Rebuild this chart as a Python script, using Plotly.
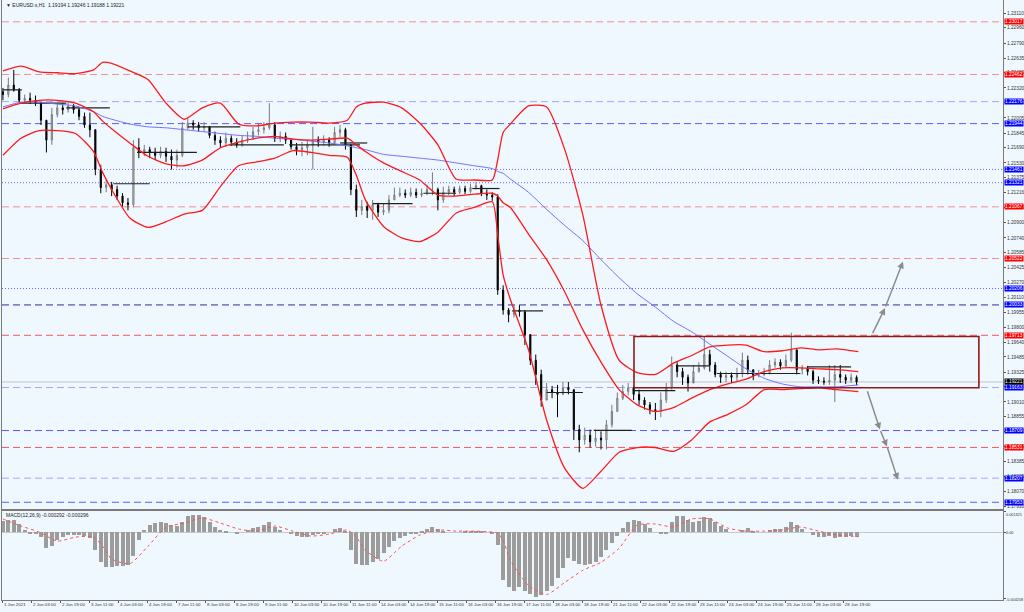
import plotly.graph_objects as go

# ---------------- data ----------------
title_text = "\u25bc EURUSD.s,H1  1.19194 1.19246 1.19188 1.19221"
macd_text = "MACD(12,26,9) -0.000292 -0.000296"

bar_step = 3          # each drawn candle covers 3 hourly bars
first_open = 1.2228

high = [1.2232, 1.2243, 1.2251, 1.2232, 1.2225, 1.2227, 1.2224, 1.2217, 1.2198, 1.2211,
        1.2216, 1.2216, 1.2217, 1.2215, 1.2211, 1.2206, 1.2206, 1.2188, 1.2151, 1.2135,
        1.2133, 1.2129, 1.2121, 1.2116, 1.2177, 1.2179, 1.2172, 1.2170, 1.2169, 1.2170,
        1.2169, 1.2167, 1.2167, 1.2196, 1.2200, 1.2198, 1.2196, 1.2196, 1.2192, 1.2186,
        1.2181, 1.2185, 1.2182, 1.2179, 1.2182, 1.2186, 1.2191, 1.2194, 1.2196, 1.2216,
        1.2196, 1.2186, 1.2185, 1.2177, 1.2174, 1.2175, 1.2177, 1.2191, 1.2181, 1.2182,
        1.2180, 1.2191, 1.2193, 1.2190, 1.2172, 1.2130, 1.2114, 1.2112, 1.2114, 1.2111,
        1.2110, 1.2119, 1.2127, 1.2127, 1.2125, 1.2127, 1.2126, 1.2126, 1.2130, 1.2143,
        1.2127, 1.2128, 1.2129, 1.2128, 1.2129, 1.2129, 1.2131, 1.2133, 1.2130, 1.2125,
        1.2122, 1.2120, 1.2024, 1.2000, 1.2003, 1.2003, 1.1998, 1.1972, 1.1951, 1.1935,
        1.1921, 1.1918, 1.1919, 1.1922, 1.1922, 1.1914, 1.1877, 1.1874, 1.1872, 1.1872,
        1.1870, 1.1882, 1.1898, 1.1911, 1.1919, 1.1921, 1.1918, 1.1914, 1.1906, 1.1901,
        1.1900, 1.1911, 1.1921, 1.1949, 1.1943, 1.1937, 1.1930, 1.1940, 1.1943, 1.1970,
        1.1956, 1.1943, 1.1933, 1.1933, 1.1932, 1.1937, 1.1953, 1.1950, 1.1935, 1.1935,
        1.1937, 1.1945, 1.1947, 1.1946, 1.1951, 1.1974, 1.1956, 1.1940, 1.1939, 1.1935,
        1.1928, 1.1927, 1.1940, 1.1940, 1.1940, 1.1930, 1.1931, 1.1929]

low = [1.2219, 1.2222, 1.2228, 1.2216, 1.2216, 1.2215, 1.2213, 1.2193, 1.2164, 1.2172,
       1.2201, 1.2204, 1.2206, 1.2205, 1.2198, 1.2190, 1.2180, 1.2140, 1.2121, 1.2122,
       1.2118, 1.2114, 1.2107, 1.2103, 1.2106, 1.2158, 1.2160, 1.2158, 1.2156, 1.2158,
       1.2154, 1.2146, 1.2148, 1.2159, 1.2188, 1.2188, 1.2186, 1.2186, 1.2179, 1.2172,
       1.2169, 1.2170, 1.2171, 1.2169, 1.2170, 1.2174, 1.2177, 1.2182, 1.2184, 1.2188,
       1.2175, 1.2175, 1.2173, 1.2167, 1.2161, 1.2160, 1.2161, 1.2146, 1.2170, 1.2171,
       1.2170, 1.2172, 1.2180, 1.2167, 1.2119, 1.2096, 1.2098, 1.2095, 1.2093, 1.2096,
       1.2098, 1.2100, 1.2114, 1.2117, 1.2116, 1.2117, 1.2116, 1.2117, 1.2119, 1.2119,
       1.2103, 1.2111, 1.2119, 1.2118, 1.2120, 1.2120, 1.2121, 1.2125, 1.2118, 1.2114,
       1.2113, 1.2014, 1.1993, 1.1985, 1.1990, 1.1991, 1.1961, 1.1940, 1.1919, 1.1896,
       1.1903, 1.1905, 1.1885, 1.1911, 1.1909, 1.1861, 1.1848, 1.1856, 1.1853, 1.1854,
       1.1851, 1.1851, 1.1874, 1.1891, 1.1903, 1.1908, 1.1903, 1.1898, 1.1893, 1.1888,
       1.1882, 1.1885, 1.1900, 1.1914, 1.1927, 1.1919, 1.1912, 1.1927, 1.1932, 1.1935,
       1.1933, 1.1927, 1.1921, 1.1922, 1.1921, 1.1923, 1.1927, 1.1930, 1.1924, 1.1927,
       1.1928, 1.1930, 1.1937, 1.1935, 1.1937, 1.1943, 1.1930, 1.1930, 1.1929, 1.1920,
       1.1920, 1.1919, 1.1919, 1.1901, 1.1921, 1.1920, 1.1921, 1.19188]

close = [1.2225, 1.2235, 1.2230, 1.2219, 1.2221, 1.2219, 1.2216, 1.2198, 1.2177, 1.2204,
         1.2211, 1.2209, 1.2213, 1.2209, 1.2202, 1.2193, 1.2188, 1.2146, 1.2127, 1.2130,
         1.2125, 1.2118, 1.2111, 1.2109, 1.2169, 1.2165, 1.2167, 1.2164, 1.2161, 1.2165,
         1.2160, 1.2156, 1.2161, 1.2190, 1.2195, 1.2193, 1.2190, 1.2191, 1.2182, 1.2177,
         1.2174, 1.2179, 1.2175, 1.2172, 1.2177, 1.2179, 1.2186, 1.2188, 1.2190, 1.2193,
         1.2179, 1.2181, 1.2177, 1.2170, 1.2167, 1.2169, 1.2172, 1.2177, 1.2175, 1.2177,
         1.2174, 1.2185, 1.2188, 1.2172, 1.2125, 1.2103, 1.2107, 1.2103, 1.2109, 1.2101,
         1.2103, 1.2114, 1.2119, 1.2121, 1.2119, 1.2122, 1.2119, 1.2121, 1.2125, 1.2125,
         1.2114, 1.2122, 1.2125, 1.2122, 1.2126, 1.2123, 1.2127, 1.2129, 1.2121, 1.2119,
         1.2117, 1.2019, 1.1998, 1.1993, 1.1998, 1.1996, 1.1972, 1.1945, 1.1930, 1.1903,
         1.1914, 1.1911, 1.1909, 1.1916, 1.1914, 1.1872, 1.1861, 1.1866, 1.1859, 1.1863,
         1.1861, 1.1877, 1.1891, 1.1905, 1.1912, 1.1916, 1.1909, 1.1903, 1.1898, 1.1893,
         1.1891, 1.1903, 1.1916, 1.1940, 1.1933, 1.1927, 1.1921, 1.1933, 1.1937, 1.1951,
         1.1940, 1.1930, 1.1927, 1.1929, 1.1927, 1.1931, 1.1945, 1.1935, 1.1929, 1.1930,
         1.1932, 1.1940, 1.1943, 1.1939, 1.1945, 1.1956, 1.1935, 1.1937, 1.1933, 1.1924,
         1.1923, 1.1922, 1.1924, 1.1930, 1.1927, 1.1924, 1.1927, 1.19221]

macd = [0.0007, 0.00076, 0.00076, 0.0005, 0.00013, -0.00006, -0.00013, -0.0003, -0.001, -0.0009,
        -0.0005, -0.0003, -0.0002, -0.0002, -0.0002, -0.00025, -0.0004, -0.00115, -0.0019, -0.0022,
        -0.0022, -0.00215, -0.00215, -0.0021, -0.0015, -0.0005, 0.00013, 0.00045, 0.00057, 0.00064,
        0.00057, 0.00045, 0.0004, 0.00064, 0.001, 0.0011, 0.0011, 0.00095, 0.00064, 0.0003,
        0.00013, 0.00006, 0.0, -0.00006, 0.0, 0.00013, 0.00025, 0.0003, 0.00045, 0.00064,
        0.0003, 0.00013, 0.0, -0.00013, -0.00025, -0.0003, -0.0003, -0.0002, -0.00013, -0.00006,
        0.0, 0.0002, 0.00025, 0.00006, -0.00115, -0.002, -0.0021, -0.0021, -0.0019, -0.0017,
        -0.0013, -0.00095, -0.00057, -0.0004, -0.00025, -0.00013, -0.00006, 0.00006, 0.0002, 0.0003,
        0.0002, 0.00006, 0.0, 0.0, 0.0, 0.00006, 0.00006, 0.00006, 0.00006, 0.0,
        -0.00006, -0.0008, -0.003, -0.0035, -0.0037, -0.0035, -0.0037, -0.0039, -0.0041, -0.004,
        -0.0037, -0.0034, -0.0029, -0.0023, -0.00165, -0.0018, -0.002, -0.0021, -0.002, -0.0019,
        -0.0016, -0.00115, -0.0007, -0.00025, 0.00025, 0.00064, 0.00076, 0.0007, 0.0005, 0.00025,
        0.0, -0.00013, -0.00006, 0.00064, 0.001, 0.001, 0.00076, 0.00064, 0.0007, 0.00095,
        0.0009, 0.00064, 0.0004, 0.0002, 0.0, 0.0, 0.00013, 0.00025, 0.00006, 0.0,
        0.0, 0.00013, 0.0002, 0.0002, 0.0003, 0.00064, 0.00045, 0.0002, 0.0, -0.0002,
        -0.0003, -0.0003, -0.00025, -0.0004, -0.0003, -0.0003, -0.00025, -0.000292]

# indicator readings, sampled at these hourly bar positions
ind_x = [0, 10, 20, 30, 40, 50, 55, 60, 70, 80, 90, 100, 110, 120, 130, 140, 150, 160, 170, 180,
         190, 195, 200, 210, 220, 230, 240, 250, 260, 270, 273, 276, 280, 290, 300, 310, 320, 330,
         340, 350, 360, 370, 380, 390, 400, 410, 420, 430, 440, 450, 460, 472]
bb_upper = [1.2250, 1.2255, 1.2249, 1.2248, 1.2247, 1.2251, 1.2259, 1.2258, 1.2250, 1.2241,
            1.2216, 1.2199, 1.2211, 1.2216, 1.2194, 1.2192, 1.2195, 1.2196, 1.2196, 1.2195,
            1.2198, 1.2212, 1.2216, 1.2217, 1.2211, 1.2195, 1.2172, 1.2136, 1.2135, 1.2135,
            1.2156, 1.2185, 1.2194, 1.2213, 1.2212, 1.2167, 1.2098, 1.2003, 1.1945, 1.1932,
            1.1930, 1.1942, 1.1950, 1.1959, 1.1961, 1.1961, 1.1954, 1.1955, 1.1958, 1.1956,
            1.1957, 1.1954]
bb_mid = [1.2210, 1.2216, 1.2219, 1.2219, 1.2216, 1.2207, 1.2197, 1.2189, 1.2174, 1.2160,
          1.2152, 1.2150, 1.2156, 1.2169, 1.2175, 1.2179, 1.2181, 1.2178, 1.2177, 1.2178,
          1.2179, 1.2172, 1.2165, 1.2153, 1.2144, 1.2135, 1.2119, 1.2118, 1.2120, 1.2121,
          1.2118, 1.2111, 1.2106, 1.2078, 1.2051, 1.2017, 1.1977, 1.1943, 1.1914, 1.1898,
          1.1891, 1.1895, 1.1905, 1.1914, 1.1920, 1.1925, 1.1933, 1.1937, 1.1937, 1.1936,
          1.1935, 1.1933]
bb_lower = [1.2161, 1.2179, 1.2187, 1.2187, 1.2184, 1.2165, 1.2143, 1.2125, 1.2095, 1.2085,
            1.2091, 1.2099, 1.2103, 1.2128, 1.2150, 1.2154, 1.2158, 1.2166, 1.2164, 1.2161,
            1.2159, 1.2140, 1.2114, 1.2086, 1.2074, 1.2070, 1.2080, 1.2100, 1.2106, 1.2112,
            1.2077, 1.2035, 1.2009, 1.1956, 1.1882, 1.1831, 1.1810, 1.1828, 1.1848, 1.1853,
            1.1853, 1.1849, 1.1861, 1.1880, 1.1888, 1.1898, 1.1914, 1.1914, 1.1915, 1.1916,
            1.1914, 1.1912]
ma_slow = [1.2212, 1.2217, 1.2217, 1.2215, 1.2213, 1.2207, 1.2202, 1.2199, 1.2194, 1.2191,
           1.2190, 1.2188, 1.2186, 1.2184, 1.2182, 1.2181, 1.2179, 1.2178, 1.2176, 1.2174,
           1.2171, 1.2169, 1.2167, 1.2162, 1.2160, 1.2158, 1.2156, 1.2153, 1.2150, 1.2147,
           1.2144, 1.2142, 1.2136, 1.2122, 1.2104, 1.2087, 1.2071, 1.2051, 1.2032, 1.2015,
           1.2001, 1.1986, 1.1975, 1.1962, 1.1949, 1.1936, 1.1926, 1.1920, 1.1917, 1.1917,
           1.1917, 1.1919]
macd_signal = [0.00083, 0.00038, 0.0, -0.00057, -0.00032, -0.0003, -0.0009, -0.0017, -0.0020, -0.0009,
               0.0003, 0.00057, 0.00089, 0.00057, 0.00019, 0.00006, 0.00038, 0.00006, -0.00025, -0.00013,
               0.00013, -0.00032, -0.00114, -0.00184, -0.00089, -0.00019, 0.00013, 0.00006, 0.00006, 0.0,
               -0.00006, -0.00051, -0.00178, -0.00337, -0.00394, -0.00318, -0.00241, -0.00191, -0.00102, 0.00044,
               0.00051, 0.00032, 0.00083, 0.00083, 0.00025, 0.00006, 0.00006, 0.00013, 0.00032, 0.00006,
               -0.00019, -0.000296]

price_ticks = [1.23110, 1.22960, 1.22790, 1.22635, 1.22480, 1.22320, 1.22165, 1.22005, 1.21845,
               1.21690, 1.21530, 1.21375, 1.21216, 1.21060, 1.20900, 1.20740, 1.20585, 1.20425,
               1.20270, 1.20110, 1.19955, 1.19800, 1.19640, 1.19485, 1.19325, 1.19170, 1.19010,
               1.18855, 1.18700, 1.18540, 1.18385, 1.18225, 1.18070, 1.17910]
macd_ticks = [0.001325, 0.0, -0.004208]
macd_tick_labels = ["0.001325", "0.00", "-0.004208"]

time_ticks = list(range(0, 465, 16))
time_labels = ["1 Jun 2021", "2 Jun 03:00", "2 Jun 19:00", "3 Jun 11:00", "4 Jun 03:00",
               "4 Jun 19:00", "7 Jun 11:00", "8 Jun 03:00", "8 Jun 19:00", "9 Jun 11:00",
               "10 Jun 03:00", "10 Jun 19:00", "11 Jun 11:00", "14 Jun 03:00", "14 Jun 19:00",
               "15 Jun 11:00", "16 Jun 03:00", "16 Jun 19:00", "17 Jun 11:00", "18 Jun 03:00",
               "18 Jun 19:00", "21 Jun 11:00", "22 Jun 03:00", "22 Jun 19:00", "23 Jun 11:00",
               "24 Jun 03:00", "24 Jun 19:00", "25 Jun 11:00", "28 Jun 03:00", "28 Jun 19:00"]

level_prices = [1.23017, 1.22462, 1.22176, 1.21944, 1.21461, 1.21321, 1.21067, 1.20522,
                1.20206, 1.20033, 1.19713, 1.19163, 1.18709, 1.18531, 1.18207, 1.17953]
level_kinds = ["red", "red", "blue_light", "blue", "blue_dot", "blue_dot", "red", "red",
               "blue_dot", "navy", "red_strong", "blue_light", "blue", "red_strong", "blue_light", "blue"]
bid_price = 1.19221

day_start = [0, 9.4, 35, 61, 74, 102, 125, 158, 186, 204, 232, 259, 281, 300, 326, 348, 372, 394, 444]
day_end = [10.5, 35, 59, 81, 107, 131, 155, 197, 201, 226, 250, 274, 298, 320, 347, 371, 390, 440, 468]
day_price = [1.2230, 1.2216, 1.2211, 1.2131, 1.2164, 1.2191, 1.2172, 1.2172, 1.2174, 1.2110,
             1.2121, 1.2126, 1.1997, 1.1911, 1.1871, 1.1913, 1.1939, 1.1931, 1.1938]

box_x = [348.2, 538.5]
box_y = [1.1916, 1.1970]

up_arrow_x = [479.5, 486.7, 496.6]
up_arrow_y = [1.1972, 1.2000, 1.2049]
down_arrow_x = [476.7, 483.9, 487.8, 493.8]
down_arrow_y = [1.1914, 1.1872, 1.1854, 1.1819]

# ---------------- figure ----------------
open_ = [first_open] + close[:-1]
bars = [i * bar_step for i in range(len(close))]

X_RANGE = [-0.5, 551.8]
Y_RANGE = [1.17882, 1.23247]
M_RANGE = [-0.00429, 0.00133]
BG = "#f0f8ff"
FONT = "Liberation Sans"
TICK_FONT = 4.8

styles = {
    "red": ("#f29090", "7px,4px", "#ff0000"),
    "red_strong": ("#f05a5a", "7px,4px", "#ff0000"),
    "blue_light": ("#a4a4ff", "7px,4px", "#0000ff"),
    "blue": ("#5a5aff", "7px,4px", "#0000ff"),
    "blue_dot": ("#6a6aff", "1px,2px", "#0000ff"),
    "navy": ("#2e2ea8", "7px,4px", "#0000ff"),
}

fig = go.Figure()

# daily open segments
seg_x, seg_y = [], []
for s, e, p in zip(day_start, day_end, day_price):
    seg_x += [s, e, None]
    seg_y += [p, p, None]
fig.add_trace(go.Scatter(x=seg_x, y=seg_y, mode="lines", line=dict(color="#202020", width=1.2),
                         hoverinfo="skip", showlegend=False, xaxis="x", yaxis="y"))

# slow moving average
fig.add_trace(go.Scatter(x=ind_x, y=ma_slow, mode="lines",
                         line=dict(color="#7070ff", width=1, shape="spline", smoothing=0.6),
                         hoverinfo="skip", showlegend=False, xaxis="x", yaxis="y"))

# Bollinger bands
for band in (bb_upper, bb_mid, bb_lower):
    fig.add_trace(go.Scatter(x=ind_x, y=band, mode="lines",
                             line=dict(color="#ff1a1a", width=1.3, shape="spline", smoothing=0.6),
                             hoverinfo="skip", showlegend=False, xaxis="x", yaxis="y"))

# candles
fig.add_trace(go.Candlestick(
    x=bars, open=open_, high=high, low=low, close=close,
    increasing=dict(line=dict(color="#7a7a7a", width=1), fillcolor="#d8d8d8"),
    decreasing=dict(line=dict(color="#000000", width=1), fillcolor="#000000"),
    whiskerwidth=0, hoverinfo="skip", showlegend=False, xaxis="x", yaxis="y"))

# MACD
fig.add_trace(go.Bar(x=bars, y=macd, width=2.2, marker=dict(color="#9c9c9c", line=dict(width=0)),
                     hoverinfo="skip", showlegend=False, xaxis="x2", yaxis="y2"))
fig.add_trace(go.Scatter(x=ind_x, y=macd_signal, mode="lines",
                         line=dict(color="#ff5050", width=1, dash="dot", shape="spline", smoothing=0.6),
                         hoverinfo="skip", showlegend=False, xaxis="x2", yaxis="y2"))

shapes = []
annotations = []

# horizontal levels + right-side price labels
for p, kind in zip(level_prices, level_kinds):
    col, dash, bg = styles[kind]
    shapes.append(dict(type="line", xref="x", yref="y", x0=X_RANGE[0], x1=X_RANGE[1], y0=p, y1=p,
                       line=dict(color=col, width=1, dash=dash), layer="below"))
    annotations.append(dict(xref="paper", yref="y", x=1, y=p, xanchor="left", yanchor="middle",
                            xshift=1, text="%.5f" % p, showarrow=False, bgcolor=bg,
                            font=dict(family=FONT, size=TICK_FONT, color="white"), borderpad=0))

# bid line
shapes.append(dict(type="line", xref="x", yref="y", x0=X_RANGE[0], x1=X_RANGE[1], y0=bid_price,
                   y1=bid_price, line=dict(color="#c4c4c4", width=1), layer="below"))
annotations.append(dict(xref="paper", yref="y", x=1, y=bid_price, xanchor="left", yanchor="middle",
                        xshift=1, text="%.5f" % bid_price, showarrow=False, bgcolor="#000000",
                        font=dict(family=FONT, size=TICK_FONT, color="white"), borderpad=0))

# MACD axis labels (placed like the terminal does: just inside the panel edges)
macd_label_shift = [-4, -1, -1]
for v, t, sh in zip(macd_ticks, macd_tick_labels, macd_label_shift):
    annotations.append(dict(xref="paper", yref="y2", x=1, y=v, xanchor="left", yanchor="middle",
                            xshift=1, yshift=sh, text=t, showarrow=False,
                            font=dict(family=FONT, size=3.8, color="#333333")))

# rectangle
shapes.append(dict(type="rect", xref="x", yref="y", x0=box_x[0], x1=box_x[1], y0=box_y[0], y1=box_y[1],
                   line=dict(color="#8e1b1b", width=1.6), fillcolor="rgba(0,0,0,0)"))

# arrowed paths
for xs, ys in ((up_arrow_x, up_arrow_y), (down_arrow_x, down_arrow_y)):
    for i in range(len(xs) - 1):
        annotations.append(dict(x=xs[i + 1], y=ys[i + 1], ax=xs[i], ay=ys[i], xref="x", yref="y",
                                axref="x", ayref="y", text="", showarrow=True, arrowhead=2,
                                arrowsize=0.9, arrowwidth=1.5, arrowcolor="#8c8c8c"))

# captions
annotations.append(dict(xref="paper", yref="paper", x=0.002, y=1 - 5 / 600, xanchor="left",
                        yanchor="middle", text=title_text, showarrow=False,
                        font=dict(family=FONT, size=5, color="#222222")))
annotations.append(dict(xref="paper", yref="paper", x=0.002, y=(600 - 515) / 600, xanchor="left",
                        yanchor="middle", text=macd_text, showarrow=False,
                        font=dict(family=FONT, size=5, color="#222222")))

axis_common = dict(showgrid=False, zeroline=False, showline=True, linecolor="#7a7a7a",
                   linewidth=1, mirror=True, automargin=False)

fig.update_layout(
    width=1024, height=612,
    margin=dict(l=2, r=21, t=0, b=12, autoexpand=False),
    paper_bgcolor=BG, plot_bgcolor=BG,
    hovermode=False,
    showlegend=False,
    boxgap=0.7,
    xaxis=dict(domain=[0, 1], anchor="y", range=X_RANGE, showticklabels=False, ticks="",
               rangeslider=dict(visible=False), **axis_common),
    xaxis2=dict(domain=[0, 1], anchor="y2", range=X_RANGE, matches="x", tickmode="array",
                tickvals=time_ticks, ticktext=time_labels, ticks="outside", ticklen=2,
                tickangle=0, tickcolor="#555555", ticklabelposition="outside right",
                tickfont=dict(family=FONT, size=4.4, color="#333333"),
                rangeslider=dict(visible=False), **axis_common),
    yaxis=dict(domain=[(600 - 509) / 600, 1], anchor="x", range=Y_RANGE, side="right",
               tickmode="array", tickvals=price_ticks, ticktext=["%.5f" % t for t in price_ticks],
               ticks="outside", ticklen=2, tickcolor="#555555",
               tickfont=dict(family=FONT, size=TICK_FONT, color="#333333"), **axis_common),
    yaxis2=dict(domain=[0, (600 - 511) / 600], anchor="x2", range=M_RANGE, side="right",
                tickmode="array", tickvals=macd_ticks, showticklabels=False,
                ticks="outside", ticklen=2, tickcolor="#555555",
                showgrid=False, showline=True, linecolor="#7a7a7a", linewidth=1, mirror=True,
                automargin=False,
                zeroline=True, zerolinecolor="#c8c8c8", zerolinewidth=1),
    shapes=shapes,
    annotations=annotations,
    bargap=0,
)

fig.write_html("out.html", config={"displayModeBar": False},
               post_script="document.body.style.margin='0px';document.body.style.overflow='hidden';")
